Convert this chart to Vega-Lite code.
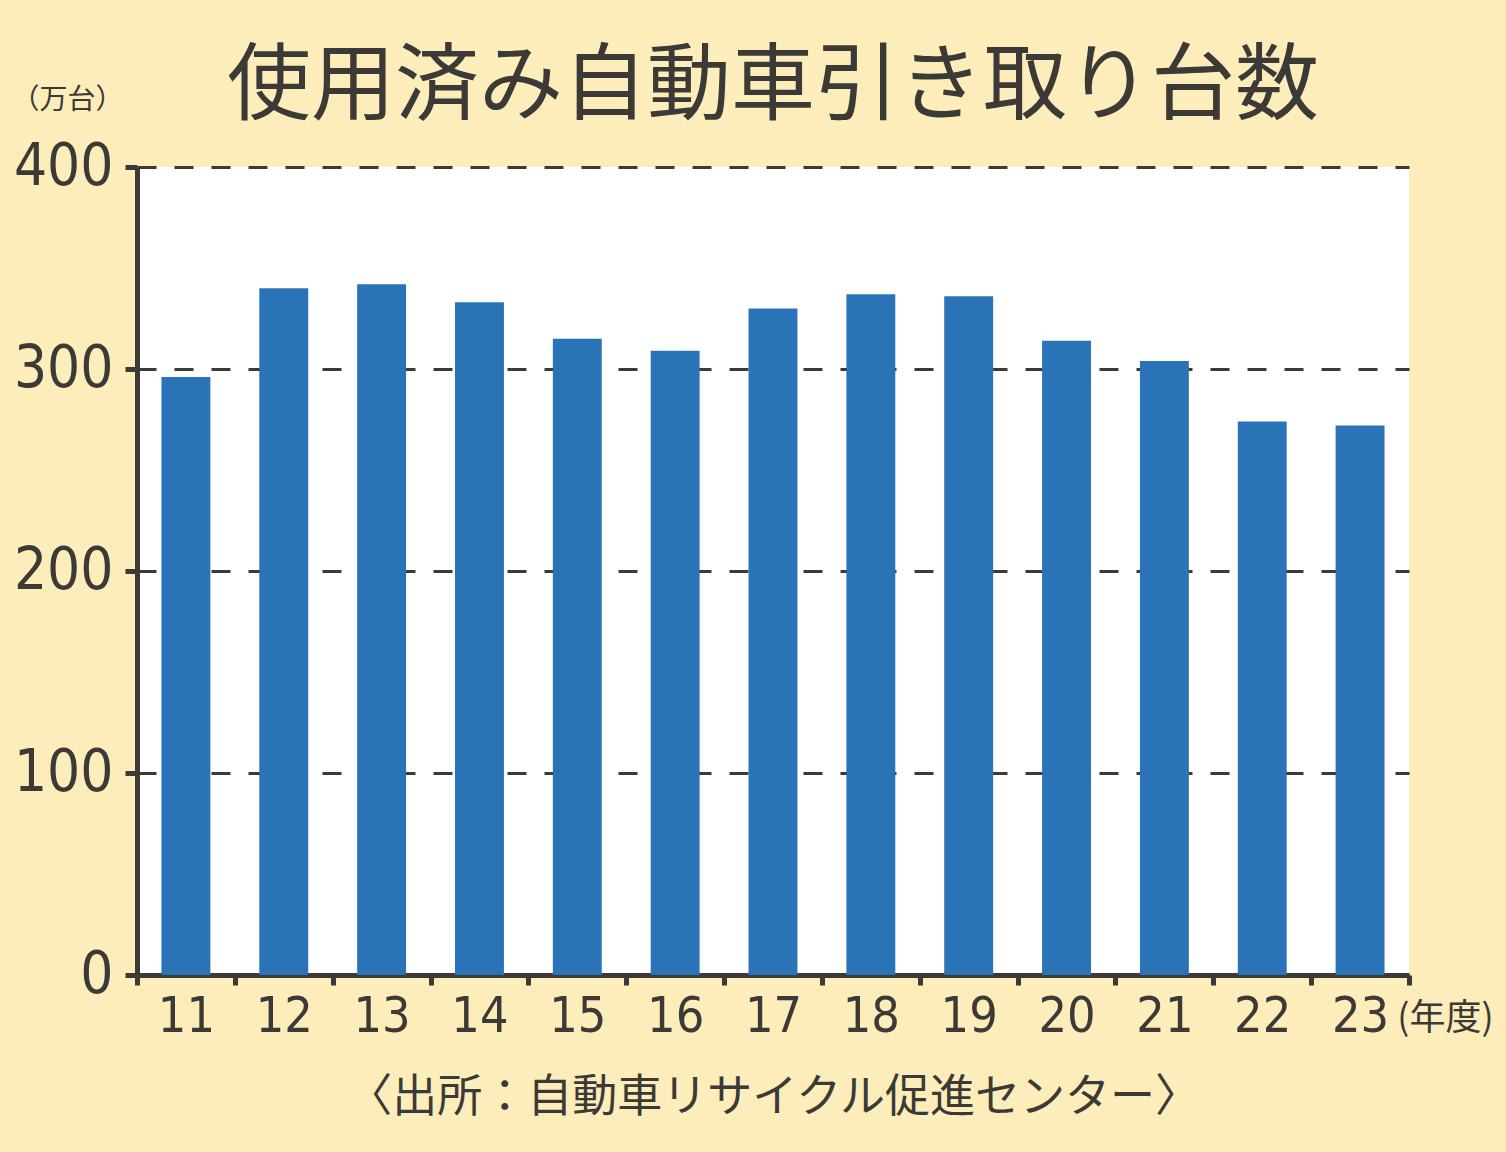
{
  "$schema": "https://vega.github.io/schema/vega-lite/v6.json",
  "width": 1272,
  "height": 808,
  "autosize": {"type": "none"},
  "padding": {"left": 137, "top": 167, "right": 97, "bottom": 177},
  "background": "#fdedba",
  "config": {
    "view": {"fill": "white", "stroke": null},
    "font": "Noto Sans CJK JP"
  },
  "title": {
    "text": "使用済み自動車引き取り台数",
    "fontSize": 84,
    "font": "Noto Sans CJK JP",
    "fontWeight": "normal",
    "color": "#3b3a36",
    "anchor": "middle",
    "offset": -45
  },
  "data": {
    "values": [
      {"year": "11", "value": 296},
      {"year": "12", "value": 340},
      {"year": "13", "value": 342},
      {"year": "14", "value": 333},
      {"year": "15", "value": 315},
      {"year": "16", "value": 309},
      {"year": "17", "value": 330},
      {"year": "18", "value": 337},
      {"year": "19", "value": 336},
      {"year": "20", "value": 314},
      {"year": "21", "value": 304},
      {"year": "22", "value": 274},
      {"year": "23", "value": 272}
    ]
  },
  "layer": [
    {
      "mark": {"type": "bar", "color": "#2b73b7", "width": {"band": 0.5}},
      "encoding": {
        "x": {
          "field": "year",
          "type": "ordinal",
          "sort": null,
          "scale": {"paddingInner": 0, "paddingOuter": 0},
          "axis": {
            "title": "〈出所：自動車リサイクル促進センター〉",
            "titleFont": "Noto Sans CJK JP",
            "titleFontSize": 45,
            "titleFontWeight": "normal",
            "titleColor": "#3b3a36",
            "titleAnchor": "middle",
            "titleBaseline": "middle",
            "titleY": 122,
            "labelAngle": 0,
            "labelFont": "DejaVu Sans Condensed",
            "labelFontSize": 50,
            "labelColor": "#3b3a36",
            "labelPadding": 6,
            "domainColor": "#3b3a36",
            "domainWidth": 5,
            "tickColor": "#3b3a36",
            "tickWidth": 5,
            "tickSize": 10,
            "tickBand": "extent",
            "grid": false
          }
        },
        "y": {
          "field": "value",
          "type": "quantitative",
          "scale": {"domain": [0, 400]},
          "axis": {
            "title": "（万台）",
            "titleFont": "Noto Sans CJK JP",
            "titleFontSize": 28,
            "titleFontWeight": "normal",
            "titleColor": "#3b3a36",
            "titleAngle": 0,
            "titleAlign": "center",
            "titleBaseline": "middle",
            "titleX": -70,
            "titleY": -67,
            "values": [0, 100, 200, 300, 400],
            "labelFont": "DejaVu Sans Condensed",
            "labelFontSize": 58,
            "labelColor": "#3b3a36",
            "labelPadding": 12,
            "domainColor": "#3b3a36",
            "domainWidth": 5,
            "tickColor": "#3b3a36",
            "tickWidth": 5,
            "tickSize": 12,
            "grid": true,
            "gridColor": "#3b3a36",
            "gridWidth": 3,
            "gridDash": [19, 18],
            "gridOpacity": 1
          }
        }
      }
    },
    {
      "mark": {"type": "bar", "opacity": 0},
      "encoding": {
        "x": {"field": "year", "type": "ordinal", "sort": null},
        "y": {
          "field": "value",
          "type": "quantitative",
          "scale": {"domain": [0, 400]},
          "axis": {
            "orient": "right",
            "title": "(年度)",
            "titleFont": "Noto Sans CJK JP",
            "titleFontSize": 36,
            "titleFontWeight": "normal",
            "titleColor": "#3b3a36",
            "titleAngle": 0,
            "titleAlign": "center",
            "titleBaseline": "middle",
            "titleX": 36,
            "titleY": 851,
            "labels": false,
            "ticks": false,
            "domain": false,
            "grid": false
          }
        }
      }
    }
  ],
  "resolve": {"scale": {"y": "independent"}}
}
